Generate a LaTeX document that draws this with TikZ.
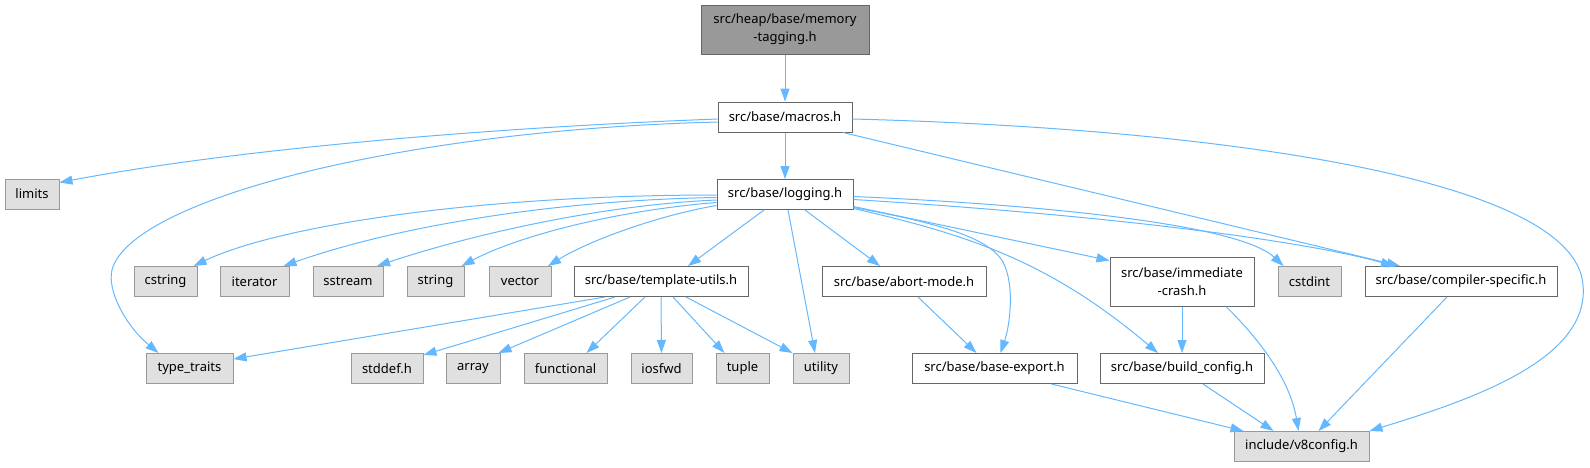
\documentclass[tikz,border=0pt]{standalone}
\usepackage{fontspec}
\setmainfont{Noto Sans}
\setsansfont{Noto Sans}
\usepackage{xcolor}
\usepackage{tikz}
\usetikzlibrary{arrows.meta}

\definecolor{depblue}{HTML}{63B8FF}
\definecolor{boxedge}{HTML}{666666}
\definecolor{sysedge}{HTML}{999999}
\definecolor{sysfill}{HTML}{E0E0E0}
\definecolor{rootfill}{HTML}{999999}

\begin{document}
\begin{tikzpicture}[
        x=1pt, y=-1pt,
        >={Triangle[length=13pt,width=9pt]},
        font=\sffamily\fontsize{13}{18}\selectfont,
        % 节点样式定义
        hdr/.style={draw=boxedge, fill=white, line width=1pt, minimum height=30pt, inner sep=0pt, align=center},
        rootfile/.style={hdr, fill=rootfill, minimum height=49pt},
        twoline/.style={hdr, minimum height=49pt},
        sysfile/.style={hdr, draw=sysedge, fill=sysfill},
        % 连线样式定义
        dep/.style={->, draw=depblue, line width=1pt}
    ]

    \useasboundingbox (0,0) rectangle (1590,467);

    % 第 0 ~ 2 层
    \node[rootfile, minimum width=168pt] (mem_tag) at (785,29.5) {src/heap/base/memory\\-tagging.h};
    \node[hdr, minimum width=134pt] (macros) at (785,117) {src/base/macros.h};
    \node[hdr, minimum width=136pt] (logging) at (785,194.5) {src/base/logging.h};
    \node[sysfile, minimum width=54pt] (limits) at (32,194) {limits};

    % 第 3 层
    \node[sysfile, minimum width=63pt] (cstring) at (165.5,281.5) {cstring};
    \node[sysfile, minimum width=69pt] (iterator) at (254.5,281.5) {iterator};
    \node[sysfile, minimum width=70pt] (sstream) at (348,281.5) {sstream};
    \node[sysfile, minimum width=57pt] (string) at (435.5,281.5) {string};
    \node[sysfile, minimum width=62pt] (vector) at (520,281.5) {vector};
    \node[hdr, minimum width=174pt] (tmpl_utils) at (661,281.5) {src/base/template-utils.h};
    \node[hdr, minimum width=164pt] (abort_mode) at (904,281.5) {src/base/abort-mode.h};
    \node[twoline, minimum width=144pt] (imm_crash) at (1182,281.5) {src/base/immediate\\-crash.h};
    \node[sysfile, minimum width=63pt] (cstdint) at (1309.5,281.5) {cstdint};
    \node[hdr, minimum width=192pt] (compiler_spec) at (1461,281.5) {src/base/compiler-specific.h};

    % 第 4 层
    \node[sysfile, minimum width=87pt] (type_traits) at (189.5,368.5) {type\_traits};
    \node[sysfile, minimum width=72pt] (stddef) at (387,368.5) {stddef.h};
    \node[sysfile, minimum width=54pt] (array) at (473,368.5) {array};
    \node[sysfile, minimum width=83pt] (functional) at (565.5,368.5) {functional};
    \node[sysfile, minimum width=61pt] (iosfwd) at (661.5,368.5) {iosfwd};
    \node[sysfile, minimum width=53pt] (tuple) at (742.5,368.5) {tuple};
    \node[sysfile, minimum width=56pt] (utility) at (821,368.5) {utility};
    \node[hdr, minimum width=165pt] (base_export) at (994.5,368.5) {src/base/base-export.h};
    \node[hdr, minimum width=164pt] (build_cfg) at (1182,368.5) {src/base/build\_config.h};

    % 第 5 层
    \node[sysfile, minimum width=135pt] (v8config) at (1301.5,446.5) {include/v8config.h};

    % memory-tagging.h / macros.h 的依赖
    \draw[dep] (mem_tag) -- (macros);
    \draw[dep] ([yshift=-2pt]macros.west) .. controls (480,128) and (230,150) .. ([yshift=-4pt]limits.north east);
    \draw[dep] ([yshift=-5pt]macros.west) .. controls (400,130) and (130,200) .. (112,270)
        .. controls (107,290) and (125,325) .. ([xshift=-31pt]type_traits.north);
    \draw[dep] (macros) -- (logging);
    \draw[dep] ([xshift=58pt]macros.south) -- ([xshift=-61pt]compiler_spec.north);
    \draw[dep] ([yshift=-2pt]macros.east) .. controls (1200,128) and (1575,175) .. (1583,285)
        .. controls (1590,360) and (1470,400) .. (v8config.north east);

    % logging.h 的依赖
    \draw[dep] ([yshift=-0.5pt]logging.west) .. controls (480,195) and (280,225) .. ([xshift=28pt]cstring.north);
    \draw[dep] ([yshift=-3pt]logging.west) .. controls (560,200) and (400,225) .. ([xshift=29pt]iterator.north);
    \draw[dep] ([yshift=-5.5pt]logging.west) .. controls (600,205) and (470,235) .. ([xshift=29pt]sstream.north);
    \draw[dep] ([yshift=-8pt]logging.west) .. controls (620,210) and (520,235) .. ([xshift=26pt]string.north);
    \draw[dep] ([yshift=-11pt]logging.west) .. controls (660,215) and (590,240) .. ([xshift=28pt]vector.north);
    \draw[dep] ([xshift=-21pt]logging.south) -- ([xshift=27pt]tmpl_utils.north);
    \draw[dep] ([xshift=3pt]logging.south) -- ([xshift=-6pt]utility.north);
    \draw[dep] ([xshift=20pt]logging.south) -- ([xshift=-24pt]abort_mode.north);
    \draw[dep] ([yshift=-13pt]logging.east) .. controls (950,225) and (990,240) .. (1003,262)
        .. controls (1015,285) and (1010,325) .. ([xshift=6pt]base_export.north);
    \draw[dep] ([yshift=-14pt]logging.east) .. controls (970,235) and (1050,262) .. ([xshift=-24pt]build_cfg.north);
    \draw[dep] ([yshift=-12pt]logging.east) -- ([yshift=-4pt]imm_crash.north west);
    \draw[dep] ([yshift=-2pt]logging.east) .. controls (1050,205) and (1240,225) .. ([xshift=-26pt]cstdint.north);
    \draw[dep] ([yshift=-5pt]logging.east) .. controls (1150,218) and (1320,245) .. ([xshift=-67pt]compiler_spec.north);

    % template-utils.h 的依赖
    \draw[dep] ([xshift=-56pt]tmpl_utils.south) -- ([yshift=-6pt]type_traits.north east);
    \draw[dep] ([xshift=-46pt]tmpl_utils.south) -- ([yshift=-2pt]stddef.north east);
    \draw[dep] ([xshift=-31pt]tmpl_utils.south) -- ([xshift=-2pt]array.north east);
    \draw[dep] ([xshift=-16pt]tmpl_utils.south) -- ([xshift=21pt]functional.north);
    \draw[dep] (tmpl_utils.south) -- (iosfwd.north);
    \draw[dep] ([xshift=12pt]tmpl_utils.south) -- ([xshift=-18pt]tuple.north);
    \draw[dep] ([xshift=25pt]tmpl_utils.south) -- (utility.north west);

    % 其余依赖
    \draw[dep] ([xshift=14pt]abort_mode.south) -- ([xshift=-18pt]base_export.north);
    \draw[dep] (imm_crash) -- (build_cfg);
    \draw[dep] ([xshift=44pt]imm_crash.south) .. controls (1260,340) and (1290,380) .. ([xshift=-3pt]v8config.north);
    \draw[dep] ([xshift=-14pt]compiler_spec.south) -- ([xshift=17pt]v8config.north);
    \draw[dep] ([xshift=57pt]base_export.south) -- ([xshift=-58pt]v8config.north);
    \draw[dep] ([xshift=21pt]build_cfg.south) -- ([xshift=-28pt]v8config.north);

\end{tikzpicture}
\end{document}
